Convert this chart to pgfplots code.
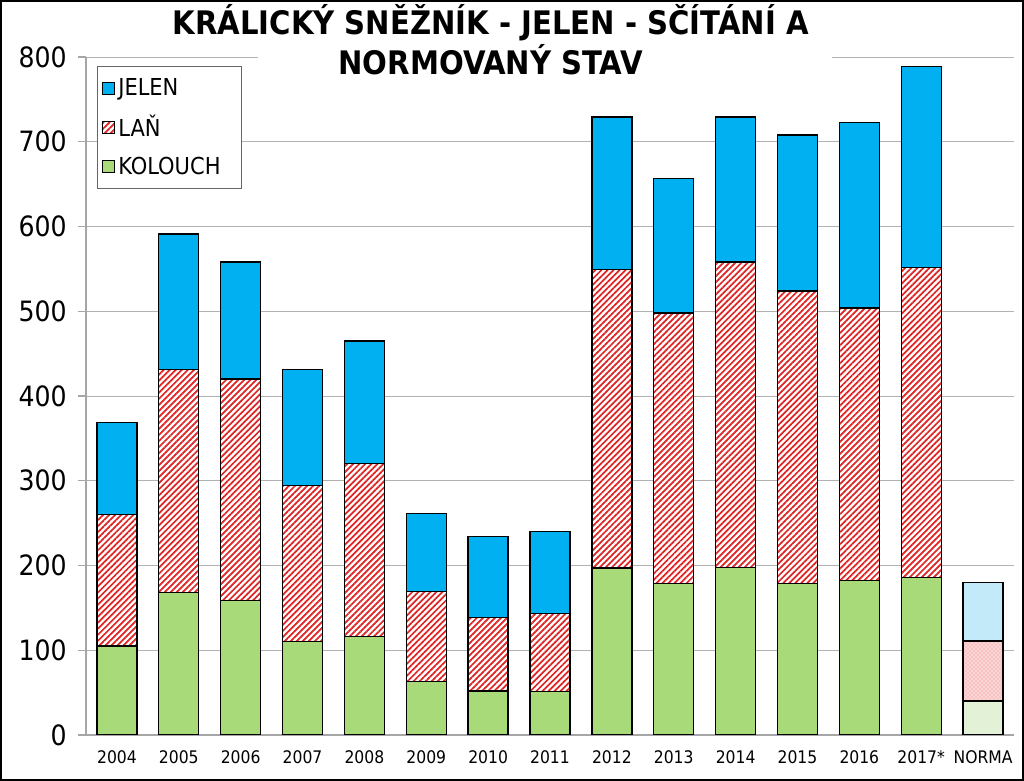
\documentclass[border=0pt]{standalone}
\usepackage{pgfplots}
\usepackage{pgfplotstable}
\pgfplotsset{compat=1.18}
\usetikzlibrary{patterns,patterns.meta}
\usepackage{fontspec}
\setmainfont{DejaVu Sans Condensed}
\newfontfamily\titlefont{DejaVu Sans Condensed}[BoldFont={DejaVu Sans Condensed Bold}]

\definecolor{jelen}{HTML}{00B0F0}
\definecolor{kolouch}{HTML}{A9DA7A}
\definecolor{lanred}{HTML}{E02424}
\definecolor{njelen}{HTML}{C2EAF9}
\definecolor{nlan}{HTML}{F9D4D4}
\definecolor{nkolouch}{HTML}{E3F1D6}

\pgfplotstableread{
idx rok kolouch lan jelen nk nl nj
0 2004 105 155 109 0 0 0
1 2005 168 263 160 0 0 0
2 2006 159 261 138 0 0 0
3 2007 110 184 137 0 0 0
4 2008 116 204 145 0 0 0
5 2009 63 106 92 0 0 0
6 2010 52 87 95 0 0 0
7 2011 51 92 97 0 0 0
8 2012 197 352 180 0 0 0
9 2013 179 319 159 0 0 0
10 2014 198 360 171 0 0 0
11 2015 179 345 184 0 0 0
12 2016 182 322 219 0 0 0
13 2017* 186 366 237 0 0 0
14 NORMA 0 0 0 40 71 69
}\data

\begin{document}
\begin{tikzpicture}
\path (0,0) rectangle (768pt,585.75pt);
\begin{axis}[
  at={(64.5pt,34.5pt)}, anchor=south west,
  scale only axis, width=696pt, height=508.5pt,
  ybar stacked, bar width=30pt,
  xmin=-0.5, xmax=14.5, ymin=0, ymax=800,
  axis lines*=left,
  axis line style={gray!70, line width=0.8pt},
  ytick={0,100,...,800},
  ymajorgrids, grid style={gray!60, line width=0.6pt},
  tick align=outside, major tick length=6pt,
  tick style={gray!70, line width=0.8pt},
  yticklabel style={font=\fontsize{21}{21}\selectfont, xshift=-5pt},
  /pgf/number format/assume math mode=true,
  xtick={0,...,14}, xticklabels from table={\data}{rok},
  xtick style={draw=none},
  xticklabel style={font=\fontsize{13}{13}\selectfont, yshift=-2pt},
  extra x ticks={-0.5,0.5,...,14.5}, extra x tick labels={},
  extra x tick style={tick style={gray!70, line width=0.8pt, draw=gray!70}, major tick length=5pt, grid=none},
  every axis plot/.append style={draw=black, line width=1pt},
  legend style={at={(0.012,0.987)}, anchor=north west, draw=gray!80!black, line width=0.8pt,
    font=\fontsize{17.5}{17.5}\selectfont, row sep=9.5pt, inner xsep=3pt, inner ysep=7pt,
    /tikz/every odd column/.append style={column sep=1pt}},
  legend cell align=left, reverse legend,
  legend image code/.code={\draw[#1, line width=0.5pt] (0pt,-4.5pt) rectangle (9pt,4.5pt);},
]
\addplot[fill=kolouch] table[x=idx,y=kolouch]{\data};
\addplot[fill=white, postaction={pattern={Lines[angle=45,distance=3.2pt,line width=1.3pt]}, pattern color=lanred}] table[x=idx,y=lan]{\data};
\addplot[fill=jelen] table[x=idx,y=jelen]{\data};
\addplot[fill=nkolouch, forget plot] table[x=idx,y=nk]{\data};
\addplot[fill=nlan, postaction={pattern=crosshatch dots, pattern color=red!45}, forget plot] table[x=idx,y=nl]{\data};
\addplot[fill=njelen, forget plot] table[x=idx,y=nj]{\data};
\legend{KOLOUCH\rule{11pt}{0pt}, LAŇ, JELEN}
\end{axis}
\fill[white] (193.5pt,537.75pt) rectangle (624pt,548.25pt);
\node[align=center, font=\titlefont\bfseries\fontsize{24.3}{30}\selectfont, inner sep=0pt] at (368pt,556pt) {KRÁLICKÝ SNĚŽNÍK - JELEN - SČÍTÁNÍ A\\NORMOVANÝ STAV};
\draw[line width=1.5pt] (0.75pt,0.75pt) rectangle (767.25pt,585pt);
\end{tikzpicture}
\end{document}
